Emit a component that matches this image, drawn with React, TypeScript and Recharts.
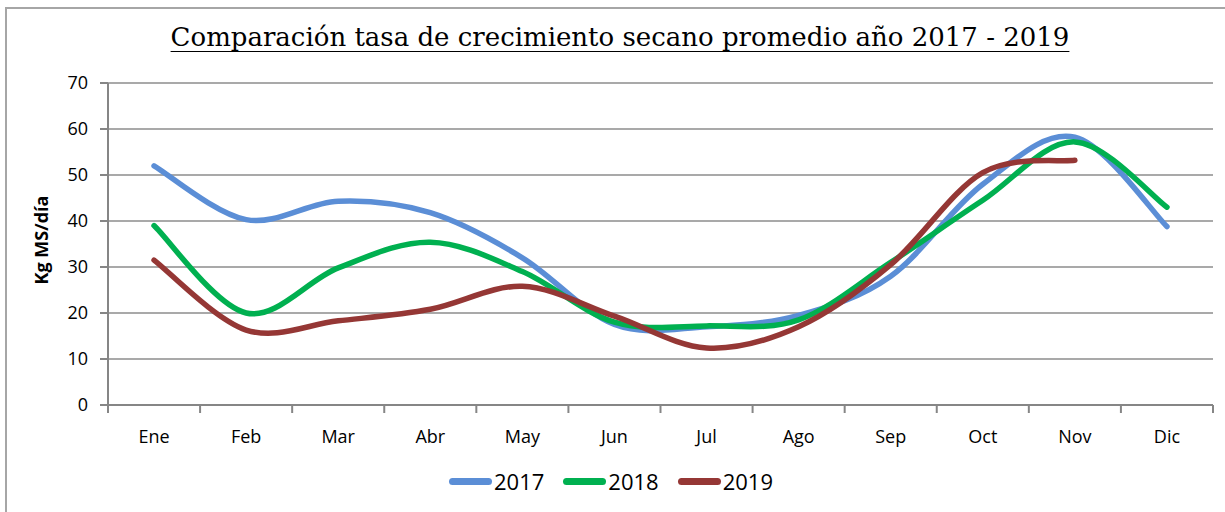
import React from "react";
import { CartesianGrid, Line, LineChart, XAxis, YAxis } from "recharts";

const months = ["Ene", "Feb", "Mar", "Abr", "May", "Jun", "Jul", "Ago", "Sep", "Oct", "Nov", "Dic"];
const serie2017 = [52, 40.3, 44.3, 41.8, 32, 17.5, 17, 19.5, 28, 48, 58.2, 38.8];
const serie2018 = [39, 20, 29.8, 35.4, 29, 18, 17.2, 18.5, 31, 44.5, 57.2, 43];
const serie2019 = [31.5, 16.3, 18.3, 20.8, 25.8, 19.3, 12.4, 17, 30.5, 50.5, 53.2, null];
const yTicks = [0, 10, 20, 30, 40, 50, 60, 70];

const series = [
  { key: "2017", values: serie2017, color: "#5B8ED6" },
  { key: "2018", values: serie2018, color: "#00B050" },
  { key: "2019", values: serie2019, color: "#953735" },
];

const data = months.map((m, i) => {
  const row: Record<string, string | number | null> = { mes: m };
  series.forEach((s) => (row[s.key] = s.values[i]));
  return row;
});

const W = 1225;
const H = 512;
const M = { top: 83, right: 12, bottom: 77, left: 0 };
const Y_W = 108;
const BAND = (W - M.left - M.right - Y_W) / months.length;
const FONT = "'Open Sans', sans-serif";

// Excel-like smoothing (catmull-rom through the points)
function excelCurve(ctx: any) {
  let pts: [number, number][] = [];
  return {
    areaStart() {},
    areaEnd() {},
    lineStart() {
      pts = [];
    },
    point(x: number, y: number) {
      pts.push([+x, +y]);
    },
    lineEnd() {
      if (!pts.length) return;
      ctx.moveTo(pts[0][0], pts[0][1]);
      for (let i = 0; i < pts.length - 1; i++) {
        const p0 = pts[i - 1] || pts[i];
        const p1 = pts[i];
        const p2 = pts[i + 1];
        const p3 = pts[i + 2] || p2;
        ctx.bezierCurveTo(
          p1[0] + (p2[0] - p0[0]) / 6,
          p1[1] + (p2[1] - p0[1]) / 6,
          p2[0] - (p3[0] - p1[0]) / 6,
          p2[1] - (p3[1] - p1[1]) / 6,
          p2[0],
          p2[1],
        );
      }
    },
  };
}

const MonthTick = (props: any) => {
  const { x, y, payload, index } = props;
  const top = y - 25;
  const left = x - BAND / 2;
  return (
    <g>
      <line x1={left} x2={left} y1={top} y2={top + 8} stroke="#868686" strokeWidth={2} />
      {index === months.length - 1 && (
        <line x1={x + BAND / 2} x2={x + BAND / 2} y1={top} y2={top + 8} stroke="#868686" strokeWidth={2} />
      )}
      <text x={x} y={y} dy="0.71em" textAnchor="middle" fontSize={18} fontFamily={FONT} fill="#000">
        {payload.value}
      </text>
    </g>
  );
};

export default function App() {
  return (
    <div
      style={{
        position: "absolute",
        left: 0,
        top: 0,
        width: W,
        height: H,
        overflow: "hidden",
        background: "#fff",
      }}
    >
      <div
        style={{
          position: "absolute",
          left: 5,
          top: 7,
          width: W + 20,
          height: H + 20,
          border: "2px solid #a6a6a6",
        }}
      />
      <div
        style={{
          position: "absolute",
          left: 0,
          width: W,
          top: 22,
          textAlign: "center",
          fontFamily: "'DejaVu Serif', serif",
          fontSize: 26,
          textDecoration: "underline",
          textDecorationThickness: 1,
          textUnderlineOffset: 5,
          paddingLeft: 15,
          boxSizing: "border-box",
        }}
      >
        Comparación tasa de crecimiento secano promedio año 2017 - 2019
      </div>
      <div
        style={{
          position: "absolute",
          left: 41,
          top: 240,
          transform: "translate(-50%, -50%) rotate(-90deg)",
          fontFamily: FONT,
          fontWeight: 700,
          fontSize: 18,
          whiteSpace: "nowrap",
        }}
      >
        Kg MS/día
      </div>
      <div style={{ position: "absolute", left: 0, top: 0 }}>
        <LineChart width={W} height={H} data={data} margin={M}>
          <CartesianGrid vertical={false} stroke="#8c8c8c" strokeWidth={1.5} />
          <XAxis
            dataKey="mes"
            interval={0}
            tickLine={false}
            tickSize={0}
            tickMargin={25}
            height={30}
            padding={{ left: BAND / 2, right: BAND / 2 }}
            axisLine={{ stroke: "#868686", strokeWidth: 2 }}
            tick={<MonthTick />}
          />
          <YAxis
            width={Y_W}
            domain={[0, 70]}
            ticks={yTicks}
            tickSize={8}
            tickMargin={12}
            axisLine={{ stroke: "#868686", strokeWidth: 2 }}
            tickLine={{ stroke: "#868686", strokeWidth: 2 }}
            tick={{ fill: "#000", fontSize: 18, fontFamily: FONT }}
          />
          {series.map((s) => (
            <Line
              key={s.key}
              dataKey={s.key}
              type={excelCurve as any}
              stroke={s.color}
              strokeWidth={5.5}
              strokeLinecap="round"
              dot={false}
              activeDot={false}
              isAnimationActive={false}
            />
          ))}
        </LineChart>
      </div>
      <div
        style={{
          position: "absolute",
          left: 0,
          width: W,
          top: 465,
          display: "flex",
          justifyContent: "center",
          paddingLeft: 16,
          boxSizing: "border-box",
          fontFamily: FONT,
          fontSize: 22,
        }}
      >
        {series.map((s) => (
          <div key={s.key} style={{ display: "flex", alignItems: "center", marginRight: 19 }}>
            <span
              style={{ width: 43, height: 7, borderRadius: 3.5, background: s.color, marginRight: 2 }}
            />
            <span style={{ lineHeight: "32px" }}>{s.key}</span>
          </div>
        ))}
      </div>
    </div>
  );
}
